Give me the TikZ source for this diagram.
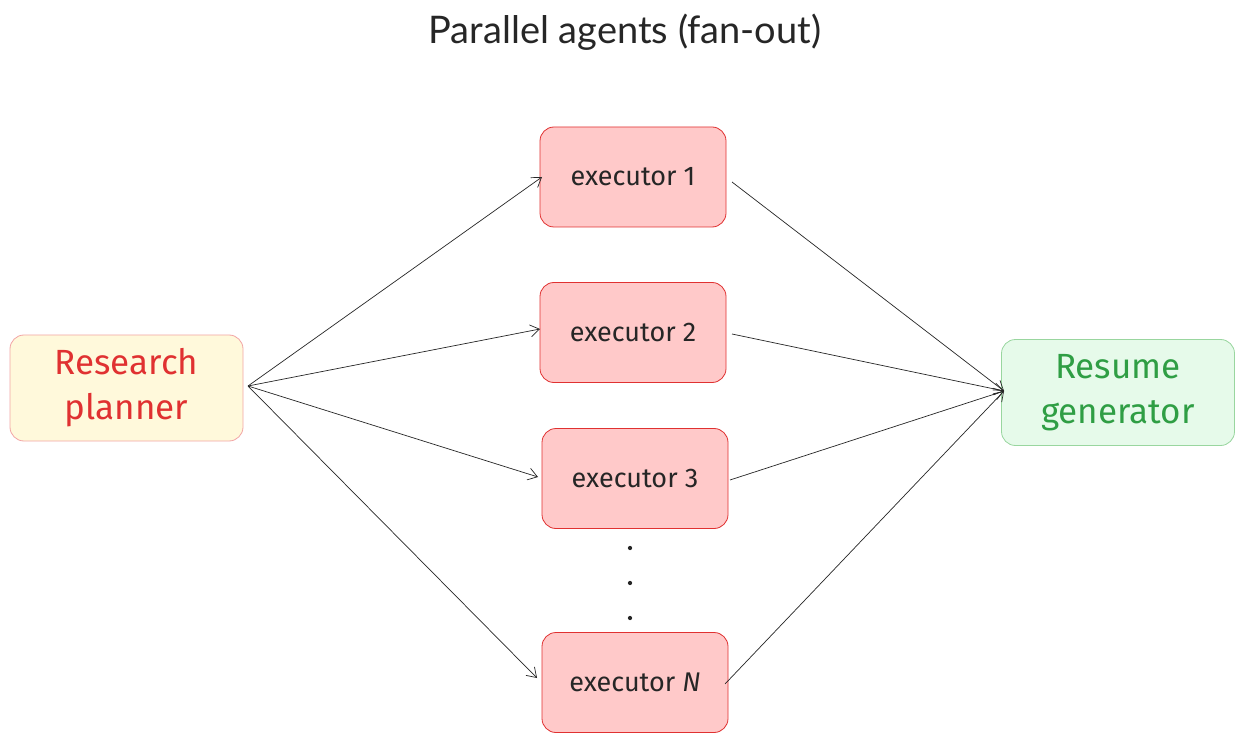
\documentclass[tikz,border=0pt]{standalone}
\usepackage{fontspec}
\setmainfont{Lato}
\newfontfamily\hand{Fira Sans}
\usetikzlibrary{arrows.meta}
\definecolor{exfill}{HTML}{FFC9C9}
\definecolor{exline}{HTML}{E03131}
\definecolor{plfill}{HTML}{FFF9DB}
\definecolor{plline}{HTML}{F2A5A5}
\definecolor{rgfill}{HTML}{E6FAEA}
\definecolor{rgline}{HTML}{99D69F}
\definecolor{pltext}{HTML}{E03131}
\definecolor{rgtext}{HTML}{2F9E44}
\tikzset{
  box/.style={draw, rounded corners=14pt, line width=0.8pt, inner sep=0pt, align=center},
  ex/.style={box, fill=exfill, draw=exline, minimum width=186pt, minimum height=100pt, font=\hand\fontsize{27}{32}\selectfont, text=black!85},
  big/.style={box, minimum width=233pt, minimum height=106pt, font=\hand\fontsize{35}{45}\selectfont},
  arr/.style={-{Straight Barb[length=9pt,width=12pt]}, line width=0.7pt, black!85},
}
\begin{document}
\begin{tikzpicture}[x=1pt,y=-1pt]
\useasboundingbox[fill=white] (0,0) rectangle (1245,743);
\node[font=\fontsize{38}{44}\selectfont, text=black!85] (title) at (625,32) {Parallel agents (fan-out)};
\node[big, fill=plfill, draw=plline, text=pltext] (pl) at (126.5,388) {Research\\planner};
\node[big, fill=rgfill, draw=rgline, text=rgtext] (rg) at (1118,392.5) {Resume\\generator};
\node[ex] (e1) at (633,177) {executor 1};
\node[ex] (e2) at (633,332.5) {executor 2};
\node[ex] (e3) at (635,478.5) {executor 3};
\node[ex] (eN) at (635,682.5) {executor \textit{N}};
\foreach \y [count=\i] in {548,583,618} \node[fill=black!85, circle, inner sep=1.5pt] (d\i) at (630,\y) {};
\coordinate (ps) at (248,386);
\coordinate (pt1) at (542,177);
\coordinate (pt2) at (540,329);
\coordinate (pt3) at (538,477);
\coordinate (ptN) at (537,678);
\coordinate (r1) at (732,182);
\coordinate (r2) at (732,334);
\coordinate (r3) at (730,480);
\coordinate (rN) at (725,684);
\coordinate (rt) at (1004,391);
\foreach \t in {pt1,pt2,pt3,ptN} \draw[arr] (ps) -- (\t);
\foreach \s in {r1,r2,r3,rN} \draw[arr] (\s) -- (rt);
\end{tikzpicture}
\end{document}
